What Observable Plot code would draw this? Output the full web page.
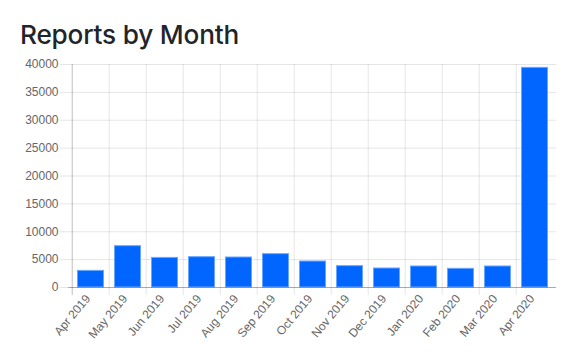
<!DOCTYPE html>
<html>
<head>
<meta charset="utf-8">
<script src="https://cdn.jsdelivr.net/npm/d3@7"></script>
<script src="https://cdn.jsdelivr.net/npm/@observablehq/plot@0.6"></script>
<style>
  html, body { margin: 0; padding: 0; background: #fff; }
  #title { font-family: Inter, "Noto Sans", sans-serif; font-weight: 500; font-size: 26.2px; color: #212529; margin: 0; padding: 17px 0 0 20px; height: 37px; line-height: 36px; letter-spacing: -0.2px; white-space: nowrap; }
  #chart { display: block; }
</style>
</head>
<body>
<div id="title">Reports by Month</div>
<div id="chart"></div>
<script>
const months = ["Apr 2019","May 2019","Jun 2019","Jul 2019","Aug 2019","Sep 2019","Oct 2019","Nov 2019","Dec 2019","Jan 2020","Feb 2020","Mar 2020","Apr 2020"];
const reports = [2980, 7410, 5310, 5440, 5380, 5980, 4660, 3830, 3410, 3770, 3350, 3770, 39400];
const yTicks = [0, 5000, 10000, 15000, 20000, 25000, 30000, 35000, 40000];

const data = months.map((m, i) => ({month: m, value: reports[i]}));

const W = 584, H = 308;
const mL = 68, mR = 28, mT = 10, mB = 75;
const bw = (W - mL - mR) / months.length;

const chart = Plot.plot({
  width: W,
  height: H,
  marginLeft: mL,
  marginRight: mR,
  marginTop: mT,
  marginBottom: mB,
  style: {fontFamily: "'Liberation Sans', Arial, Helvetica, sans-serif", fontSize: "12px", color: "#666", background: "#fff"},
  x: {type: "band", domain: months, padding: 0, label: null},
  y: {domain: [0, 40000], label: null},
  marks: [
    Plot.ruleY(yTicks, {stroke: "#000", strokeOpacity: 0.1, insetLeft: -8}),
    Plot.ruleX(months.slice(1), {x: d => d, dx: -bw / 2, stroke: "#000", strokeOpacity: 0.1, insetBottom: -8}),
    Plot.ruleX(months.slice(0, 1), {x: d => d, dx: -bw / 2, stroke: "#000", strokeOpacity: 0.25, insetBottom: -8}),
    Plot.barY(data, {x: "month", y: "value", fill: "#0066ff", stroke: "#6aa6ff", strokeWidth: 1, insetLeft: 5.5, insetRight: 5.5}),
    Plot.ruleY([0], {stroke: "#000", strokeOpacity: 0.25}),
    Plot.axisY({ticks: yTicks, tickSize: 0, tickPadding: 10, tickFormat: d => String(d), fill: "#666", fontSize: 12, label: null}),
    Plot.axisX({tickRotate: -50, tickSize: 0, tickPadding: 9, dx: -3, fill: "#666", fontSize: 12, label: null})
  ]
});
document.getElementById("chart").appendChild(chart);
</script>
</body>
</html>
